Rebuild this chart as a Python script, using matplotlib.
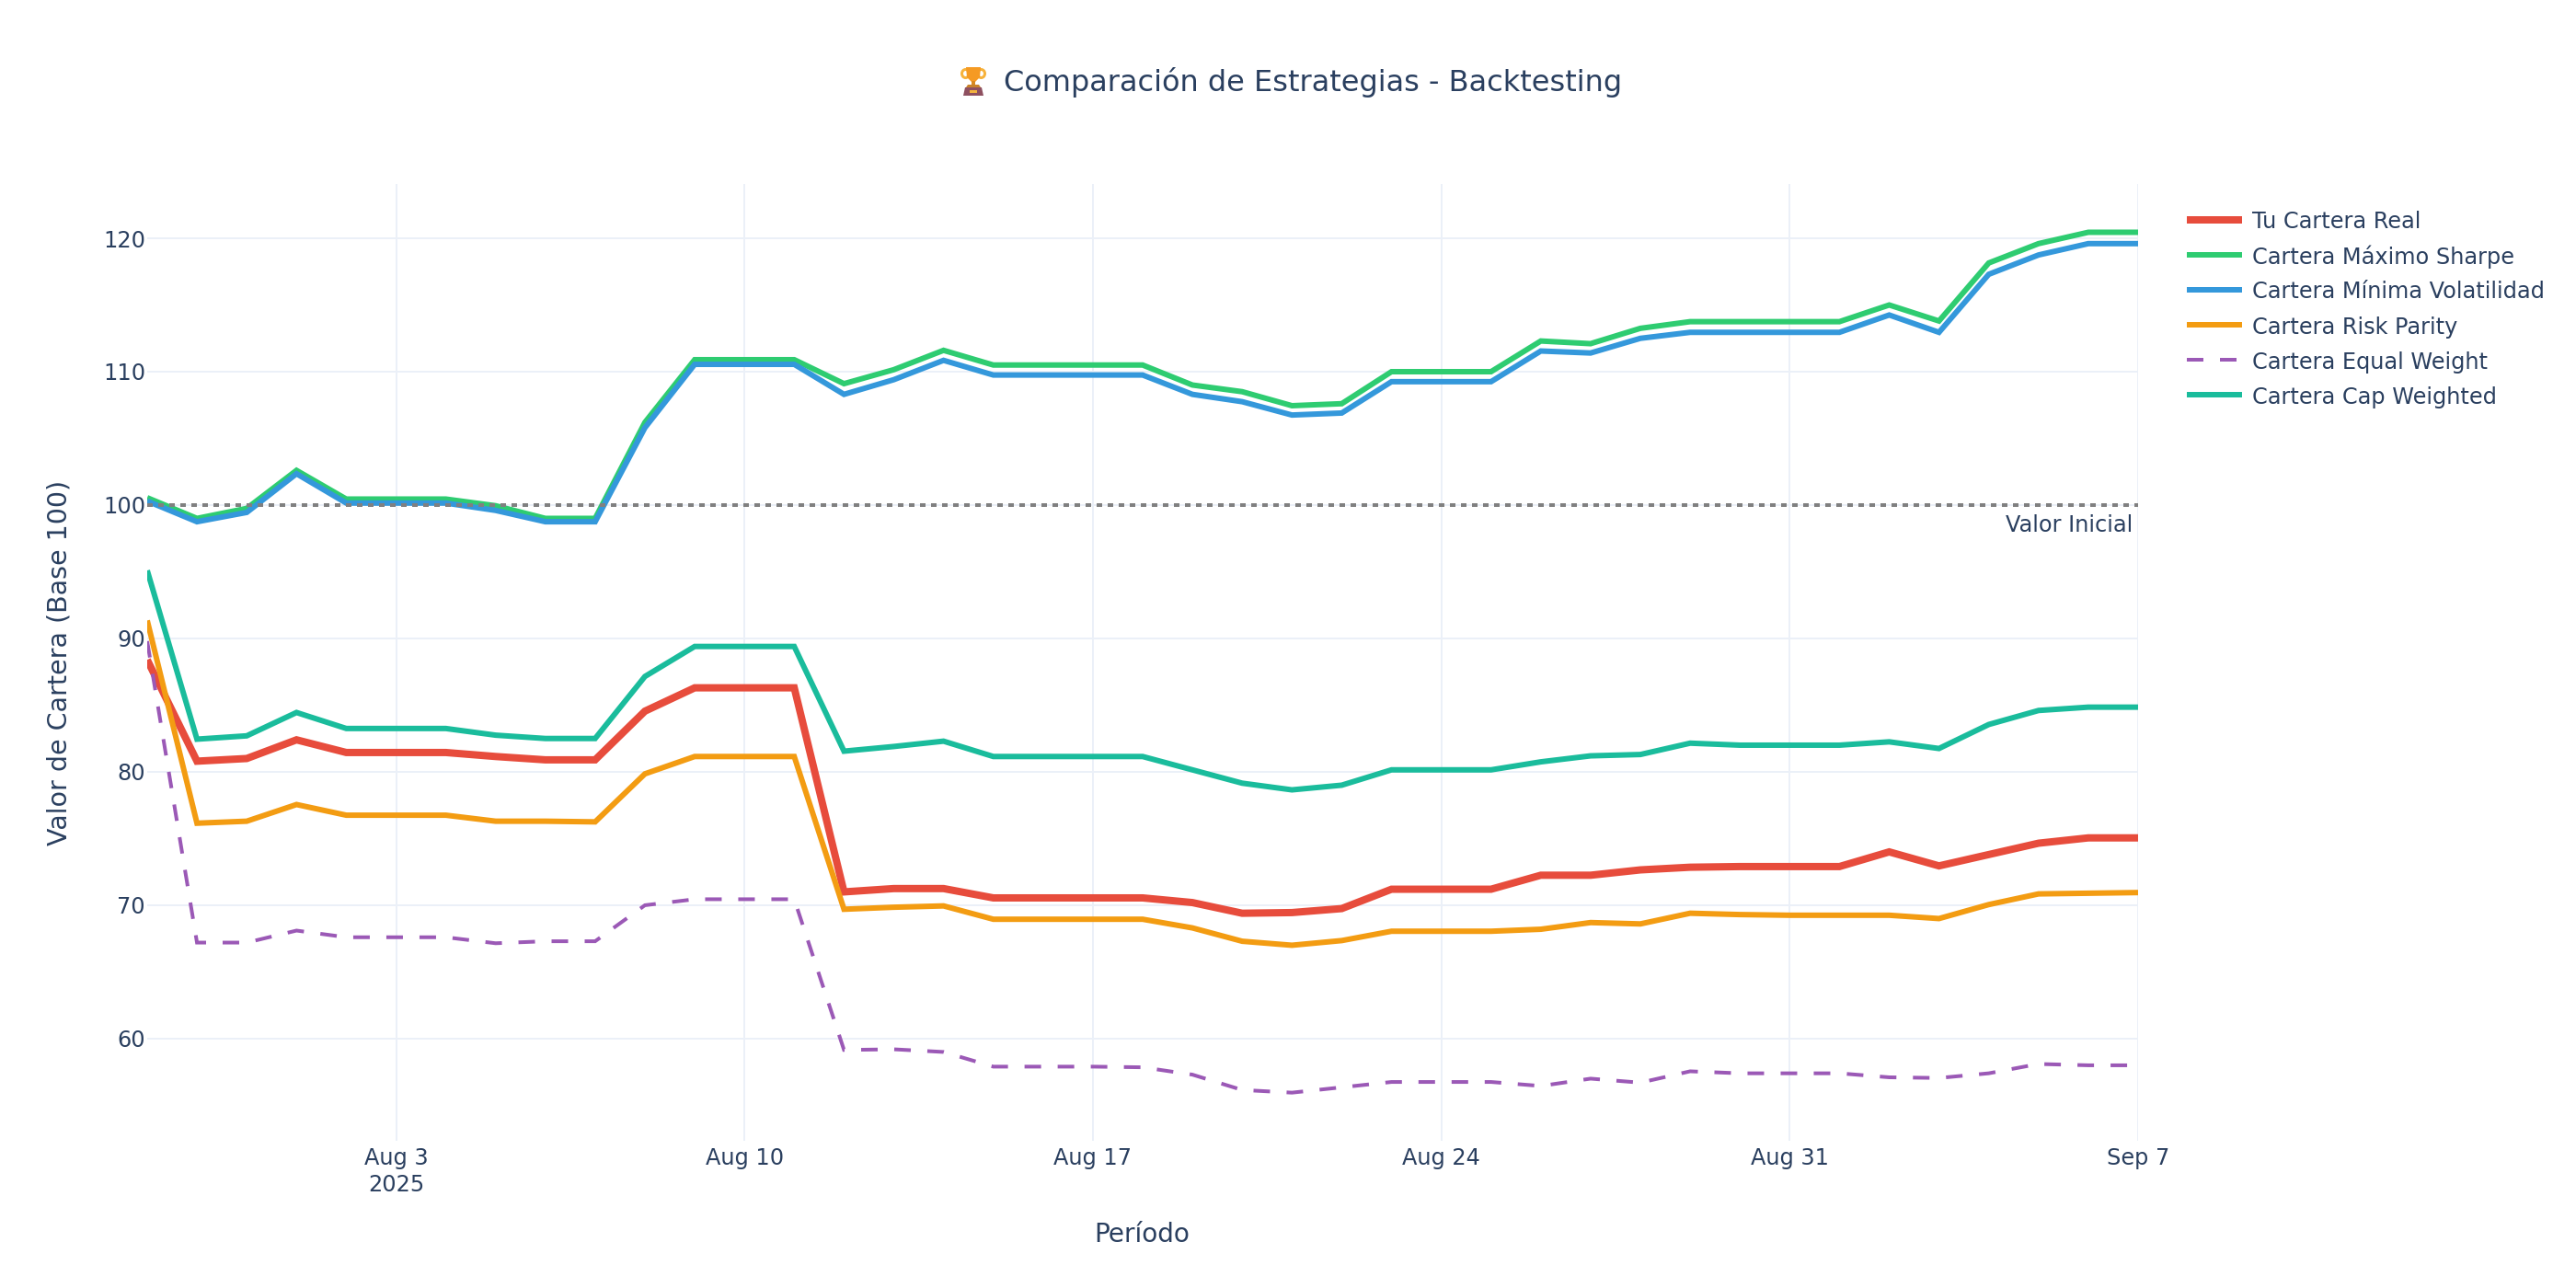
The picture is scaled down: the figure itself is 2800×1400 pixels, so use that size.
import matplotlib
matplotlib.use('Agg')
import matplotlib.pyplot as plt
from matplotlib.patches import Polygon, Rectangle, Ellipse
from matplotlib.lines import Line2D
import pandas as pd

dates = pd.date_range('2025-07-29', '2025-09-07', freq='D')

tu_cartera = [88.4, 80.8, 81.0, 82.4, 81.45, 81.45, 81.45, 81.15, 80.9, 80.9, 84.55,
              86.3, 86.3, 86.3, 71.0, 71.25, 71.25, 70.55, 70.55, 70.55, 70.55,
              70.2, 69.4, 69.45, 69.75, 71.2, 71.2, 71.2, 72.25, 72.25, 72.65,
              72.85, 72.9, 72.9, 72.9, 74.0, 72.95, 73.8, 74.65, 75.05, 75.05]
max_sharpe = [100.55, 99.0, 99.75, 102.6, 100.45, 100.45, 100.45, 99.95, 99.0, 99.0, 106.2,
              110.9, 110.9, 110.9, 109.1, 110.15, 111.6, 110.5, 110.5, 110.5, 110.5,
              109.0, 108.5, 107.45, 107.6, 110.0, 110.0, 110.0, 112.3, 112.1, 113.25,
              113.75, 113.75, 113.75, 113.75, 115.0, 113.8, 118.15, 119.6, 120.45, 120.45]
min_vol = [100.3, 98.75, 99.45, 102.35, 100.15, 100.15, 100.15, 99.6, 98.75, 98.75, 105.8,
           110.55, 110.55, 110.55, 108.3, 109.4, 110.85, 109.75, 109.75, 109.75, 109.75,
           108.3, 107.75, 106.75, 106.9, 109.25, 109.25, 109.25, 111.55, 111.4, 112.5,
           112.95, 112.95, 112.95, 112.95, 114.25, 112.95, 117.3, 118.75, 119.6, 119.6]
risk_parity = [91.35, 76.15, 76.3, 77.55, 76.75, 76.75, 76.75, 76.3, 76.3, 76.25, 79.85,
               81.15, 81.15, 81.15, 69.7, 69.85, 69.95, 68.95, 68.95, 68.95, 68.95,
               68.3, 67.3, 67.0, 67.35, 68.05, 68.05, 68.05, 68.2, 68.7, 68.6,
               69.4, 69.3, 69.25, 69.25, 69.25, 69.0, 70.05, 70.85, 70.9, 70.95]
equal_weight = [89.8, 67.2, 67.2, 68.1, 67.6, 67.6, 67.6, 67.15, 67.3, 67.3, 70.0,
                70.45, 70.45, 70.45, 59.15, 59.2, 59.0, 57.9, 57.9, 57.9, 57.85,
                57.3, 56.15, 55.95, 56.35, 56.75, 56.75, 56.75, 56.45, 57.0, 56.7,
                57.55, 57.4, 57.4, 57.4, 57.1, 57.05, 57.4, 58.1, 58.0, 58.0]
cap_weighted = [95.1, 82.45, 82.7, 84.45, 83.25, 83.25, 83.25, 82.75, 82.5, 82.5, 87.15,
                89.4, 89.4, 89.4, 81.55, 81.9, 82.3, 81.15, 81.15, 81.15, 81.15,
                80.15, 79.15, 78.65, 79.0, 80.15, 80.15, 80.15, 80.75, 81.2, 81.3,
                82.15, 82.0, 82.0, 82.0, 82.25, 81.75, 83.55, 84.6, 84.85, 84.85]

series_names = ['Tu Cartera Real', 'Cartera Máximo Sharpe', 'Cartera Mínima Volatilidad',
                'Cartera Risk Parity', 'Cartera Equal Weight', 'Cartera Cap Weighted']
series_values = [tu_cartera, max_sharpe, min_vol, risk_parity, equal_weight, cap_weighted]
series_colors = ['#e74c3c', '#2ecc71', '#3498db', '#f39c12', '#9b59b6', '#1abc9c']

y_ticks = [60, 70, 80, 90, 100, 110, 120]
x_ticks = ['2025-08-03', '2025-08-10', '2025-08-17', '2025-08-24', '2025-08-31', '2025-09-07']
x_labels = ['Aug 3\n2025', 'Aug 10', 'Aug 17', 'Aug 24', 'Aug 31', 'Sep 7']

TEXT = '#2a3f5f'
GRID = '#ebf0f8'
W, H = 2800, 1400
DPI = 200


def px(n):
    # device pixels to points
    return n * 72 / DPI


plt.rcParams['font.family'] = 'DejaVu Sans'
fig = plt.figure(figsize=(W / DPI, H / DPI), dpi=DPI, facecolor='white')
ax = fig.add_axes([160 / W, 1 - 1240 / H, (2324 - 160) / W, 1040 / H])

for name, vals, col in zip(series_names, series_values, series_colors):
    lw = px(8) if name == 'Tu Cartera Real' else (px(4) if 'Equal' in name else px(6))
    ls = (0, (4.5, 4.5)) if 'Equal' in name else '-'
    ax.plot(dates, vals, color=col, lw=lw, ls=ls, solid_joinstyle='miter',
            solid_capstyle='butt', dash_capstyle='butt', dash_joinstyle='miter', zorder=3)

ax.axhline(100, color='#808080', lw=px(4), ls=(0, (1.5, 1.5)), dash_capstyle='butt', zorder=4)

ax.set_xlim(dates[0], dates[-1])
ax.set_ylim(52.34, 124.07)
ax.set_yticks(y_ticks)
ax.set_xticks(pd.to_datetime(x_ticks))
ax.set_xticklabels(x_labels, linespacing=1.28)
ax.grid(True, color=GRID, lw=px(2))
ax.set_axisbelow(True)
for s in ax.spines.values():
    s.set_visible(False)
ax.tick_params(axis='both', length=0, labelsize=px(24), labelcolor=TEXT)
ax.tick_params(axis='x', pad=px(7))
ax.tick_params(axis='y', pad=px(2))

ax.annotate('Valor Inicial', xy=(1, 100), xycoords=('axes fraction', 'data'),
            xytext=(-px(6), -px(10)), textcoords='offset points', ha='right', va='top',
            fontsize=px(24), color=TEXT)

fig.text(1427 / W, 1 - 89 / H, 'Comparación de Estrategias - Backtesting', ha='center', va='center',
         fontsize=px(32), color=TEXT)
fig.text(1241 / W, 1 - 1342 / H, 'Período', ha='center', va='center', fontsize=px(28), color=TEXT)
fig.text(65 / W, 1 - 720 / H, 'Valor de Cartera (Base 100)', ha='center', va='center',
         rotation=90, fontsize=px(28.5), color=TEXT)

# legend placed by hand so rows match
for i, (name, col) in enumerate(zip(series_names, series_colors)):
    y = 1 - (239 + 38 * i) / H
    lw = px(8) if i == 0 else (px(4) if 'Equal' in name else px(6))
    ls = (0, (4.5, 4.5)) if 'Equal' in name else '-'
    fig.add_artist(Line2D([2377 / W, 2437 / W], [y, y], color=col, lw=lw, ls=ls,
                          solid_capstyle='butt', dash_capstyle='butt'))
    fig.text(2448 / W, y, name, ha='left', va='center_baseline', fontsize=px(24), color=TEXT)

# trophy emoji drawn as small shapes, in pixel coordinates
tr = fig.add_axes([0, 0, 1, 1], facecolor='none')
tr.set_xlim(0, W)
tr.set_ylim(H, 0)
tr.axis('off')
tr.add_patch(Ellipse((1049.5, 80), 8, 9, fill=False, ec='#f7b23b', lw=px(3)))
tr.add_patch(Ellipse((1066.5, 80), 8, 9, fill=False, ec='#f7b23b', lw=px(3)))
tr.add_patch(Polygon([(1050, 73), (1066, 73), (1065, 84), (1060, 89), (1056, 89), (1051, 84)],
                     fc='#f59a23', ec='none'))
tr.add_patch(Rectangle((1056, 88), 4, 4, fc='#d98a1f', ec='none'))
tr.add_patch(Polygon([(1052, 92), (1064, 92), (1066, 95), (1050, 95)], fc='#c9822a', ec='none'))
tr.add_patch(Polygon([(1049, 95), (1067, 95), (1069, 104), (1047, 104)], fc='#8e5060', ec='none'))
tr.add_patch(Rectangle((1054, 98), 8, 3, fc='#f3b33d', ec='none'))

fig.savefig('out.png', dpi=DPI)
